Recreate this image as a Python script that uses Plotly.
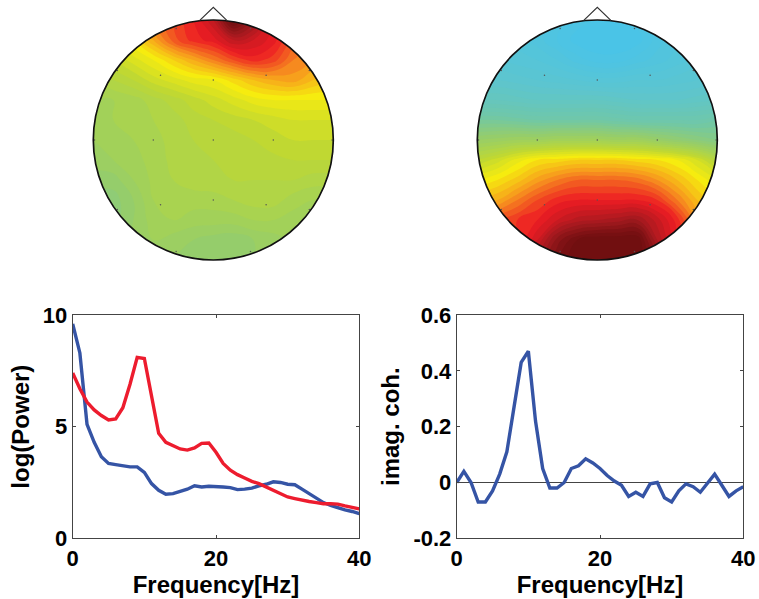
import plotly.graph_objects as go

W, H = 759, 599

freq = list(range(41))
power_blue = [9.6,8.3,5.1,4.3,3.65,3.35,3.3,3.25,3.2,3.2,2.95,2.45,2.15,1.97,2.0,2.1,2.2,2.35,2.3,2.33,2.33,
              2.3,2.27,2.18,2.2,2.25,2.35,2.42,2.53,2.5,2.42,2.4,2.2,2.0,1.78,1.6,1.47,1.35,1.27,1.2,1.1]
power_red = [7.4,6.7,6.1,5.75,5.5,5.3,5.35,5.85,6.9,8.1,8.05,6.4,4.7,4.3,4.15,4.0,3.95,4.05,4.25,4.27,3.85,
             3.35,3.05,2.85,2.7,2.55,2.45,2.3,2.15,2.0,1.85,1.78,1.7,1.65,1.6,1.55,1.55,1.53,1.45,1.38,1.32]
imag_coh = [0,.04,0,-.07,-.07,-.03,.03,.11,.27,.43,.47,.22,.05,-.02,-.02,0,.05,.06,.085,.07,.05,
            .025,.005,-.01,-.05,-.035,-.05,-.005,0,-.055,-.07,-.03,-.005,-.015,-.035,0,.03,-.01,-.05,-.03,-.015]

scalp_coord = [round(-1 + i / 6, 4) for i in range(13)]
# rows listed from the top of the head (y = +1) to the back (y = -1)
topo_left = [
    [.60,.62,.66,.72,.76,.80,.86,1.0,.92,.82,.78,.72,.68],
    [.56,.58,.62,.68,.75,.79,.81,.86,.84,.81,.75,.72,.70],
    [.52,.54,.57,.60,.64,.68,.72,.76,.79,.77,.72,.70,.68],
    [.48,.50,.52,.55,.57,.59,.60,.63,.66,.68,.69,.66,.64],
    [.46,.46,.47,.49,.51,.53,.55,.57,.59,.60,.60,.60,.60],
    [.45,.46,.47,.48,.49,.51,.52,.53,.54,.55,.56,.56,.56],
    [.44,.45,.46,.47,.49,.50,.505,.51,.52,.53,.54,.54,.54],
    [.43,.44,.45,.47,.485,.495,.50,.505,.51,.515,.52,.52,.52],
    [.41,.41,.44,.465,.48,.49,.495,.50,.50,.50,.50,.49,.49],
    [.39,.39,.42,.46,.47,.47,.47,.48,.49,.49,.47,.46,.46],
    [.39,.39,.42,.45,.46,.45,.45,.45,.46,.46,.45,.45,.45],
    [.40,.40,.43,.44,.43,.42,.41,.405,.42,.43,.44,.44,.44],
    [.42,.42,.43,.43,.42,.41,.41,.41,.42,.43,.44,.44,.44],
]
topo_right = [
    [.10,.10,.09,.08,.05,.03,.02,.02,.03,.05,.08,.10,.10],
    [.10,.10,.09,.07,.04,.01,0,0,.01,.05,.08,.10,.10],
    [.12,.12,.11,.10,.08,.05,.03,.03,.05,.07,.09,.11,.12],
    [.16,.16,.15,.14,.13,.12,.11,.11,.12,.12,.13,.14,.15],
    [.22,.22,.21,.20,.20,.20,.20,.19,.18,.18,.18,.19,.20],
    [.32,.32,.31,.30,.30,.30,.30,.29,.28,.28,.28,.28,.30],
    [.42,.43,.44,.44,.45,.45,.45,.44,.44,.42,.40,.38,.36],
    [.52,.55,.59,.62,.63,.64,.64,.64,.63,.62,.60,.56,.50],
    [.60,.62,.65,.69,.72,.74,.74,.74,.73,.70,.66,.62,.58],
    [.66,.68,.72,.76,.79,.80,.80,.80,.80,.78,.72,.66,.62],
    [.74,.76,.78,.80,.84,.87,.88,.89,.90,.85,.79,.70,.66],
    [.80,.80,.78,.84,.93,.98,1.0,1.0,1.0,.88,.80,.74,.70],
    [.84,.84,.84,.88,.96,1.0,1.0,1.0,1.0,.92,.84,.78,.74],
]
electrode_x = [-.31,.31,-.80,-.44,0,.44,.80,-.99,-.50,0,.50,.99,-.80,-.44,0,.44,.80,-.31,.31]
electrode_y = [.93,.93,.58,.54,.50,.54,.58,0,0,0,0,0,-.58,-.54,-.50,-.54,-.58,-.93,-.93]

colorscale = [
    [0.00, "rgb(73,196,233)"], [0.15, "rgb(92,197,208)"], [0.30, "rgb(112,199,168)"],
    [0.40, "rgb(146,204,112)"], [0.46, "rgb(165,210,85)"], [0.53, "rgb(192,216,50)"],
    [0.61, "rgb(246,236,15)"], [0.70, "rgb(247,150,30)"], [0.80, "rgb(237,28,36)"],
    [0.90, "rgb(160,25,30)"], [0.96, "rgb(122,17,19)"], [1.00, "rgb(110,15,15)"],
]

fig = go.Figure()

def px_x(a, b):
    return [a / W, b / W]

def px_y(top, bottom):
    return [1 - bottom / H, 1 - top / H]

R = 120
heads = [("x", "y", 213.3, 140, topo_left), ("x2", "y2", 597.3, 140, topo_right)]
shapes = []
k = 0.5523
circle = (f"M 1 0 C 1 {k} {k} 1 0 1 C {-k} 1 -1 {k} -1 0 "
          f"C -1 {-k} {-k} -1 0 -1 C {k} -1 1 {-k} 1 0 Z")
for xa, ya, cx, cy, z in heads:
    fig.add_trace(go.Contour(x=scalp_coord, y=scalp_coord[::-1], z=z, xaxis=xa, yaxis=ya,
                             colorscale=colorscale, zmin=0, zmax=1, showscale=False,
                             autocontour=False, contours=dict(start=0, end=1, size=0.02, coloring="fill"),
                             line=dict(width=0, smoothing=1.3), hoverinfo="skip"))
    shapes.append(dict(type="path", xref=xa, yref=ya, fillcolor="white", fillrule="evenodd",
                       line=dict(width=0), layer="above",
                       path="M -1.05 -1.05 L 1.05 -1.05 L 1.05 1.05 L -1.05 1.05 Z " + circle))
    shapes.append(dict(type="path", xref=xa, yref=ya, line=dict(color="#111111", width=1.7), layer="above",
                       fillcolor="rgba(0,0,0,0)", path=circle))
    shapes.append(dict(type="path", xref=xa, yref=ya, line=dict(color="#333333", width=1.2), layer="above",
                       fillcolor="rgba(0,0,0,0)", path="M -0.115 0.995 L 0 1.105 L 0.115 0.995"))
    fig.add_trace(go.Scatter(x=electrode_x, y=electrode_y, xaxis=xa, yaxis=ya, mode="markers",
                             marker=dict(size=1.5, color="#555555"), hoverinfo="skip", showlegend=False))
    span = R * 1.3
    fig.layout[("xaxis" if xa == "x" else "xaxis2")] = dict(
        domain=px_x(cx - span, cx + span), range=[-1.3, 1.3], visible=False)
    fig.layout[("yaxis" if ya == "y" else "yaxis2")] = dict(
        domain=px_y(cy - 1.15 * R, cy + 1.08 * R), range=[-1.08, 1.15], visible=False)

BLUE, RED = "#3554a5", "#ed1c2e"
fig.add_trace(go.Scatter(x=freq, y=power_blue, xaxis="x3", yaxis="y3", mode="lines",
                         line=dict(color=BLUE, width=3.4), showlegend=False))
fig.add_trace(go.Scatter(x=freq, y=power_red, xaxis="x3", yaxis="y3", mode="lines",
                         line=dict(color=RED, width=3.4), showlegend=False))
fig.add_trace(go.Scatter(x=freq, y=imag_coh, xaxis="x4", yaxis="y4", mode="lines",
                         line=dict(color=BLUE, width=3.4), showlegend=False))

font = dict(family="Liberation Sans", size=22, color="black", weight=700)
title_font = dict(family="Liberation Sans", size=24, color="black", weight=700)
axis_common = dict(showgrid=False, showline=True, linecolor="#444444", linewidth=1, mirror="ticks",
                   ticks="inside", ticklen=3, tickcolor="#444444", tickwidth=1, tickfont=font)
fig.update_layout(
    xaxis3=dict(domain=px_x(72.7, 359.3), range=[0, 40], tickvals=[0, 20, 40], anchor="y3", zeroline=False,
                title=dict(text="Frequency[Hz]", font=title_font, standoff=3), **axis_common),
    yaxis3=dict(domain=px_y(315, 538.3), range=[0, 10], tickvals=[0, 5, 10], anchor="x3", zeroline=False,
                title=dict(text="log(Power)", font=title_font, standoff=6), **axis_common),
    xaxis4=dict(domain=px_x(456.7, 743.3), range=[0, 40], tickvals=[0, 20, 40], anchor="y4", zeroline=False,
                title=dict(text="Frequency[Hz]", font=title_font, standoff=3), **axis_common),
    yaxis4=dict(domain=px_y(315, 538.3), range=[-0.2, 0.6], tickvals=[-0.2, 0, 0.2, 0.4, 0.6],
                ticktext=["-0.2", "0", "0.2", "0.4", "0.6"], anchor="x4", zeroline=True, zerolinecolor="#444444",
                zerolinewidth=1, title=dict(text="imag. coh.", font=title_font, standoff=6), **axis_common),
    shapes=shapes, width=W, height=H, margin=dict(l=0, r=0, t=0, b=0, autoexpand=False),
    paper_bgcolor="white", plot_bgcolor="white", showlegend=False,
)
fig.write_html("out.html", config={"displayModeBar": False}, post_script="document.body.style.margin='0';")
